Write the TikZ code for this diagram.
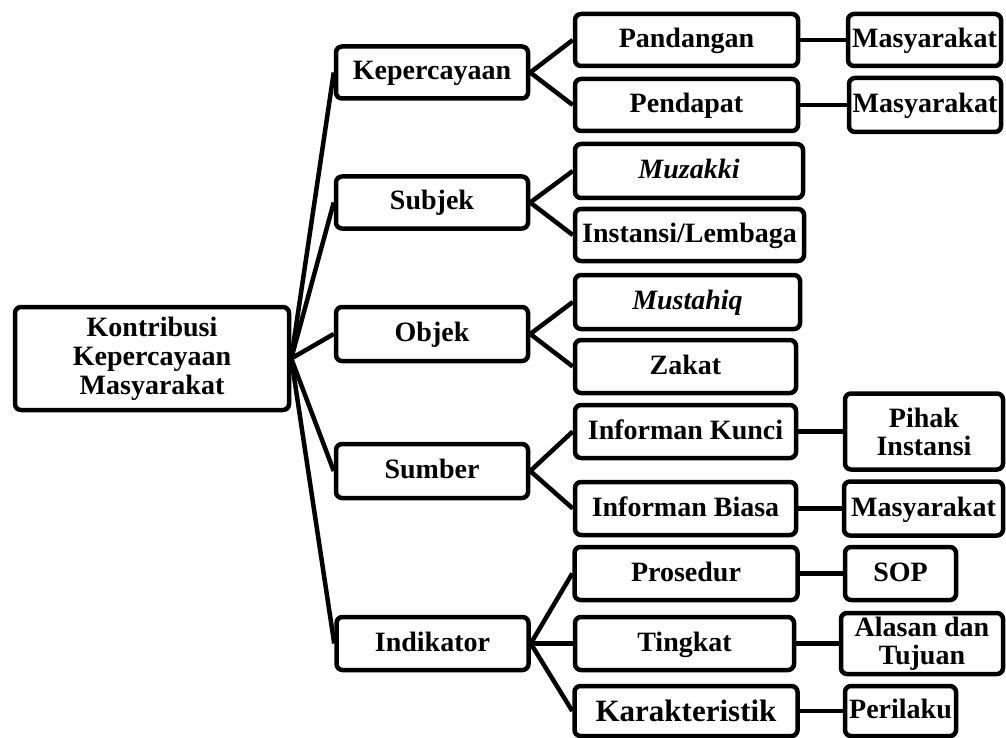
\documentclass[tikz,border=0pt]{standalone}
\usepackage{fontspec}
\setmainfont{Liberation Serif}
\begin{document}
\begin{tikzpicture}[x=1pt,y=-1pt,
  box/.style={draw,line width=4.5pt,rounded corners=6pt,inner sep=0pt,align=center,
    font=\fontsize{28}{29}\selectfont\bfseries},
  one/.style={box,text height=20pt,text depth=5pt},
  lone/.style={one,minimum width=192pt,minimum height=52pt},
  ltwo/.style={one,minimum width=223pt,minimum height=52pt},
  link/.style={line width=4.5pt}]
\useasboundingbox (0,0) rectangle (1006,738);
\node[box,minimum width=274pt,minimum height=103pt] (root) at (152,358.5) {Kontribusi\\Kepercayaan\\Masyarakat};
\node[lone] (kep) at (432,72.5) {Kepercayaan};
\node[lone] (sub) at (432,202.5) {Subjek};
\node[lone,minimum height=54pt] (obj) at (432,334) {Objek};
\node[lone,minimum height=54pt] (sum) at (432,471) {Sumber};
\node[lone,minimum height=53pt] (ind) at (432.5,643.5) {Indikator};
\node[ltwo] (pan) at (686.5,40) {Pandangan};
\node[ltwo] (pen) at (686.5,105) {Pendapat};
\node[ltwo,minimum width=228pt,minimum height=54pt] (muz) at (689,171) {\itshape Muzakki};
\node[ltwo,minimum width=229pt] (ins) at (689.5,235) {Instansi/Lembaga};
\node[ltwo,minimum width=225pt,minimum height=54pt] (mus) at (687.5,302) {\itshape Mustahiq};
\node[ltwo,minimum width=221pt,minimum height=53pt] (zak) at (685.5,366.5) {Zakat};
\node[ltwo,minimum width=221pt,minimum height=53pt] (ink) at (685.5,431.5) {Informan Kunci};
\node[ltwo,minimum width=221pt,minimum height=53pt] (inb) at (685.5,508.5) {Informan Biasa};
\node[ltwo,minimum height=53pt] (pro) at (686,573.5) {Prosedur};
\node[ltwo,minimum width=219pt,minimum height=53pt] (tin) at (684.5,643.5) {Tingkat};
\node[ltwo,minimum height=50pt,text height=23pt,text depth=3pt,font=\fontsize{31}{32}\selectfont\bfseries] (kar) at (686,711) {Karakteristik};
\node[one,minimum width=153pt,minimum height=52pt] (mas1) at (924.5,40) {Masyarakat};
\node[one,minimum width=152pt,minimum height=54pt] (mas2) at (925,105) {Masyarakat};
\node[box,minimum width=158pt,minimum height=76pt,font=\fontsize{28}{28}\selectfont\bfseries] (pih) at (924,431.5) {Pihak\\Instansi};
\node[one,minimum width=159pt,minimum height=54pt] (mas3) at (923.5,508.5) {Masyarakat};
\node[one,minimum width=111pt,minimum height=53pt] (sop) at (900.5,573.5) {SOP};
\node[box,minimum width=162pt,minimum height=61pt,font=\fontsize{28}{28}\selectfont\bfseries] (ala) at (922,643.5) {Alasan dan\\Tujuan};
\node[one,minimum width=111pt,minimum height=50pt] (per) at (900.5,711) {Perilaku};
\draw[link] (root.east) -- (kep.west);
\draw[link] (root.east) -- (sub.west);
\draw[link] (root.east) -- (obj.west);
\draw[link] (root.east) -- (sum.west);
\draw[link] (root.east) -- (ind.west);
\draw[link] (kep.east) -- (pan.west);
\draw[link] (kep.east) -- (pen.west);
\draw[link] (sub.east) -- (muz.west);
\draw[link] (sub.east) -- (ins.west);
\draw[link] (obj.east) -- (mus.west);
\draw[link] (obj.east) -- (zak.west);
\draw[link] (sum.east) -- (ink.west);
\draw[link] (sum.east) -- (inb.west);
\draw[link] (ind.east) -- (pro.west);
\draw[link] (ind.east) -- (tin.west);
\draw[link] (ind.east) -- (kar.west);
\draw[link] (pan.east) -- (mas1.west);
\draw[link] (pen.east) -- (mas2.west);
\draw[link] (ink.east) -- (pih.west);
\draw[link] (inb.east) -- (mas3.west);
\draw[link] (pro.east) -- (sop.west);
\draw[link] (tin.east) -- (ala.west);
\draw[link] (kar.east) -- (per.west);
\end{tikzpicture}
\end{document}
